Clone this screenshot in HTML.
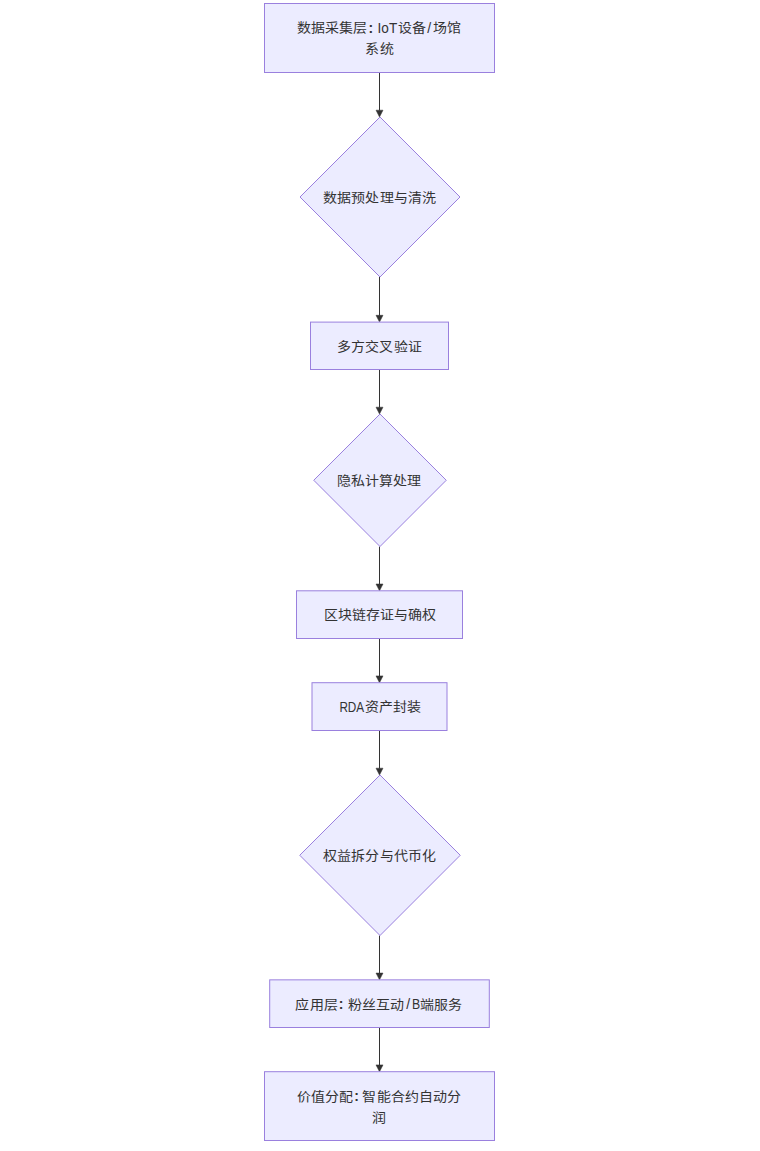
<!DOCTYPE html>
<html lang="zh-CN"><head><meta charset="utf-8">
<style>
html,body{margin:0;padding:0;background:#fff;width:760px;height:1151px;overflow:hidden}
svg{display:block}
.n rect,.n polygon{fill:#ECECFF;stroke:#9A80DE;stroke-width:1px}
.e path{stroke:#333333;stroke-width:1px;fill:none}
.e path.ah{fill:#333333;stroke-width:0.5px}
text{font-family:"Liberation Sans",sans-serif;font-size:14px;fill:#333}
.b{font-weight:bold}
</style></head><body>
<svg width="760" height="1151" viewBox="0 0 760 1151">
<g class="e">
<path d="M379.5,72.5 L379.5,110.7"/>
<path class="ah" d="M376.0,110.20 L383.0,110.20 L379.5,117 Z"/>
<path d="M379.5,277 L379.5,315.8"/>
<path class="ah" d="M376.0,315.30 L383.0,315.30 L379.5,322.1 Z"/>
<path d="M379.5,369.5 L379.5,407.7"/>
<path class="ah" d="M376.0,407.20 L383.0,407.20 L379.5,414 Z"/>
<path d="M379.5,546.5 L379.5,584.5"/>
<path class="ah" d="M376.0,584.00 L383.0,584.00 L379.5,590.8 Z"/>
<path d="M379.5,638.5 L379.5,676.4000000000001"/>
<path class="ah" d="M376.0,675.90 L383.0,675.90 L379.5,682.7 Z"/>
<path d="M379.5,730.5 L379.5,768.7"/>
<path class="ah" d="M376.0,768.20 L383.0,768.20 L379.5,775 Z"/>
<path d="M379.5,935.5 L379.5,973.5500000000001"/>
<path class="ah" d="M376.0,973.05 L383.0,973.05 L379.5,979.85 Z"/>
<path d="M379.5,1027.5 L379.5,1065.4"/>
<path class="ah" d="M376.0,1064.90 L383.0,1064.90 L379.5,1071.7 Z"/>
</g>
<g class="n">
<rect x="264.5" y="3.5" width="230" height="69"/>
<polygon points="380,117 460.0,197.0 380,277 300.0,197.0"/>
<rect x="310.5" y="322.1" width="138" height="47.4"/>
<polygon points="380,414 446.25,480.25 380,546.5 313.75,480.25"/>
<rect x="296.5" y="590.8" width="166" height="47.7"/>
<rect x="312" y="682.7" width="135" height="47.8"/>
<polygon points="380,775 460.25,855.25 380,935.5 299.75,855.25"/>
<rect x="269.7" y="979.85" width="219.6" height="47.65"/>
<rect x="264.5" y="1071.7" width="230" height="68.8"/>
</g>
<g class="t">
<g transform="translate(0,32) scale(1,0.9)"><text x="297" y="0" textLength="70" lengthAdjust="spacing">数据采集层</text><text x="397.6" y="0" textLength="28" lengthAdjust="spacing">设备</text><text x="433.0" y="0" textLength="28" lengthAdjust="spacing">场馆</text></g><text class="b" x="368.6" y="33">:</text><text x="377.6" y="33" textLength="19.6" lengthAdjust="spacingAndGlyphs">IoT</text><text x="427.3" y="33">/</text>
<g transform="translate(0,53) scale(1,0.9)"><text x="365.5" y="0" textLength="28" lengthAdjust="spacing">系统</text></g>
<g transform="translate(0,202) scale(1,0.9)"><text x="323.35" y="0" textLength="112" lengthAdjust="spacing">数据预处理与清洗</text></g>
<g transform="translate(0,351) scale(1,0.9)"><text x="337.3" y="0" textLength="84" lengthAdjust="spacing">多方交叉验证</text></g>
<g transform="translate(0,485) scale(1,0.9)"><text x="337.0" y="0" textLength="84" lengthAdjust="spacing">隐私计算处理</text></g>
<g transform="translate(0,619) scale(1,0.9)"><text x="324.0" y="0" textLength="112" lengthAdjust="spacing">区块链存证与确权</text></g>
<g transform="translate(0,711) scale(1,0.9)"><text x="364.6" y="0" textLength="56" lengthAdjust="spacing">资产封装</text></g><text x="339.4" y="712" textLength="24.8" lengthAdjust="spacingAndGlyphs">RDA</text>
<g transform="translate(0,860) scale(1,0.9)"><text x="323.35" y="0" textLength="112" lengthAdjust="spacing">权益拆分与代币化</text></g>
<g transform="translate(0,1009) scale(1,0.9)"><text x="295.5" y="0" textLength="42" lengthAdjust="spacing">应用层</text><text x="348.0" y="0" textLength="56" lengthAdjust="spacing">粉丝互动</text><text x="419.8" y="0" textLength="42" lengthAdjust="spacing">端服务</text></g><text class="b" x="338.8" y="1009">:</text><text x="406.2" y="1009">/</text><text x="412.0" y="1009" textLength="8.2" lengthAdjust="spacingAndGlyphs">B</text>
<g transform="translate(0,1101) scale(1,0.9)"><text x="296.8" y="0" textLength="56" lengthAdjust="spacing">价值分配</text><text x="362.5" y="0" textLength="98" lengthAdjust="spacing">智能合约自动分</text></g><text class="b" x="354.3" y="1101">:</text>
<g transform="translate(0,1122) scale(1,0.9)"><text x="372.5" y="0" textLength="14" lengthAdjust="spacing">润</text></g>
</g>
</svg>
</body></html>
